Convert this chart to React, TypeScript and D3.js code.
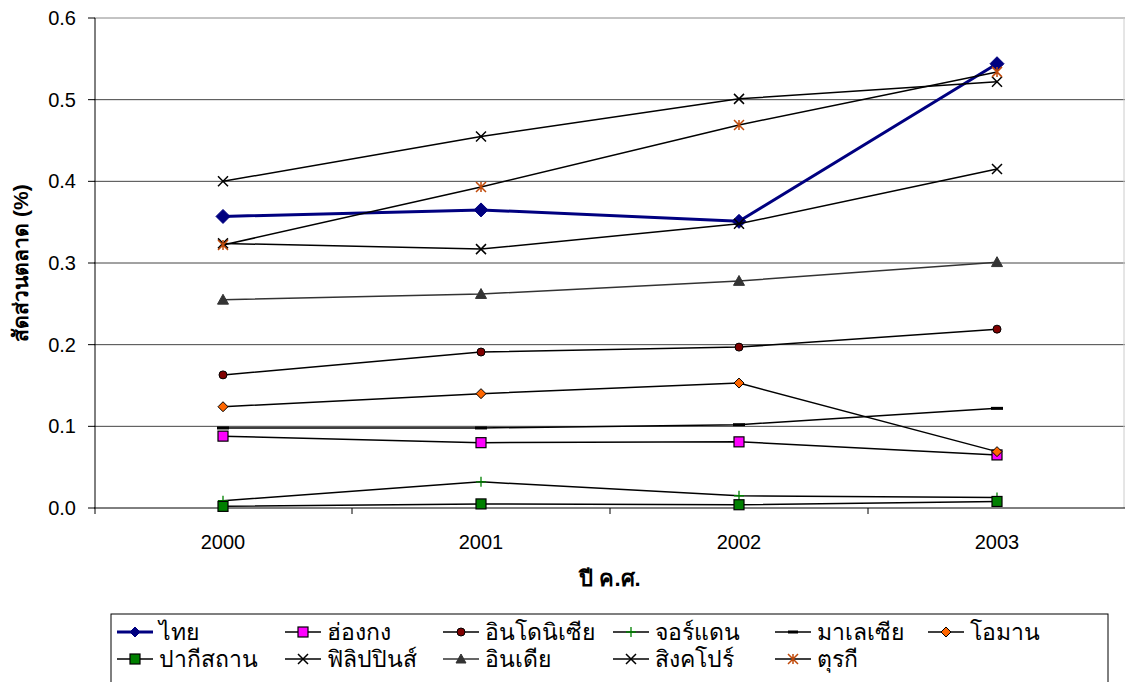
import React from "react";
import * as d3 from "d3";

const years = ["2000", "2001", "2002", "2003"];
const yTicks = [0, 0.1, 0.2, 0.3, 0.4, 0.5, 0.6];

const thai = [0.357, 0.365, 0.351, 0.544];
const hongKong = [0.088, 0.08, 0.081, 0.065];
const indonesia = [0.163, 0.191, 0.197, 0.219];
const jordan = [0.009, 0.032, 0.015, 0.013];
const malaysia = [0.098, 0.098, 0.102, 0.122];
const oman = [0.124, 0.14, 0.153, 0.069];
const pakistan = [0.002, 0.005, 0.004, 0.008];
const philippines = [0.324, 0.317, 0.348, 0.415];
const india = [0.255, 0.262, 0.278, 0.301];
const singapore = [0.4, 0.455, 0.501, 0.522];
const turkey = [0.322, 0.393, 0.469, 0.534];

type Marker = "diamond" | "square" | "circle" | "plus" | "dash" | "x" | "triangle" | "star";
interface Series { name: string; values: number[]; line: string; width: number; marker: Marker; fill: string; size: number; }

const series: Series[] = [
  { name: "ไทย", values: thai, line: "#000080", width: 3, marker: "diamond", fill: "#000080", size: 14 },
  { name: "ฮ่องกง", values: hongKong, line: "#000", width: 1.5, marker: "square", fill: "#FF00FF", size: 10 },
  { name: "อินโดนิเซีย", values: indonesia, line: "#000", width: 1.5, marker: "circle", fill: "#800000", size: 8 },
  { name: "จอร์แดน", values: jordan, line: "#000", width: 1.5, marker: "plus", fill: "#008000", size: 10 },
  { name: "มาเลเซีย", values: malaysia, line: "#000", width: 1.5, marker: "dash", fill: "#000", size: 12 },
  { name: "โอมาน", values: oman, line: "#000", width: 1.5, marker: "diamond", fill: "#FF6600", size: 10 },
  { name: "ปากีสถาน", values: pakistan, line: "#000", width: 1.5, marker: "square", fill: "#008000", size: 10 },
  { name: "ฟิลิปปินส์", values: philippines, line: "#000", width: 1.5, marker: "x", fill: "#000", size: 10 },
  { name: "อินเดีย", values: india, line: "#333", width: 1.5, marker: "triangle", fill: "#333", size: 11 },
  { name: "สิงคโปร์", values: singapore, line: "#000", width: 1.5, marker: "x", fill: "#000", size: 10 },
  { name: "ตุรกี", values: turkey, line: "#000", width: 1.5, marker: "star", fill: "#C04A0A", size: 10 },
];

const W = 1125, H = 682;
const plot = { left: 94, right: 1126, top: 18, bottom: 508 };
const legendBox = { x: 111, y: 614, w: 997, h: 80 };
const legendCols = [117, 285, 443, 613, 775, 928];
const legendRows = [632, 659];
const FONT = "Arial, 'Liberation Sans', sans-serif";

function MarkerShape({ m, x, y, legend }: { m: Series; x: number; y: number; legend?: boolean }) {
  const s = legend ? Math.min(m.size, 10) : m.size;
  const h = s / 2;
  switch (m.marker) {
    case "diamond":
      return <path d={`M${x},${y - h}L${x + h},${y}L${x},${y + h}L${x - h},${y}Z`} fill={m.fill} stroke={m.fill === "#000080" ? "#000080" : "#000"} strokeWidth={1} />;
    case "square":
      return <rect x={x - h} y={y - h} width={s} height={s} fill={m.fill} stroke="#000" strokeWidth={1.2} />;
    case "circle":
      return <circle cx={x} cy={y} r={h} fill={m.fill} stroke="#000" strokeWidth={1} />;
    case "plus":
      return <path d={`M${x - h},${y}H${x + h}M${x},${y - h}V${y + h}`} stroke={m.fill} strokeWidth={1.3} fill="none" />;
    case "dash":
      return <rect x={x - h} y={y - 1.5} width={s} height={3} fill={m.fill} />;
    case "x":
      return <path d={`M${x - h},${y - h}L${x + h},${y + h}M${x - h},${y + h}L${x + h},${y - h}`} stroke={m.fill} strokeWidth={1.5} fill="none" />;
    case "triangle":
      return <path d={`M${x},${y - h}L${x + h},${y + h * 0.8}L${x - h},${y + h * 0.8}Z`} fill={m.fill} stroke={m.fill} strokeWidth={1} />;
    case "star":
      return <path d={`M${x - h},${y - h}L${x + h},${y + h}M${x - h},${y + h}L${x + h},${y - h}M${x},${y - h}V${y + h}`} stroke={m.fill} strokeWidth={1.5} fill="none" />;
  }
  return null;
}

export default function App() {
  const x = d3.scaleBand<string>().domain(years).range([plot.left, plot.right]);
  const y = d3.scaleLinear().domain([0, 0.6]).range([plot.bottom, plot.top]);
  const cx = (yr: string) => (x(yr) as number) + x.bandwidth() / 2;
  const line = d3.line<number>().x((_, i) => cx(years[i])).y((v) => y(v));
  const between = years.slice(1).map((yr) => x(yr) as number);

  return (
    <svg width={W} height={H} style={{ position: "absolute", left: 0, top: 0, background: "#fff" }} fontFamily={FONT}>
      <rect x={0} y={0} width={W} height={H} fill="#fff" />
      {yTicks.filter((t) => t > 0).map((t) => (
        <line key={t} x1={plot.left} x2={plot.right} y1={y(t)} y2={y(t)} stroke={t === 0.6 ? "#888" : "#444"} strokeWidth={1} />
      ))}
      <line x1={1124} x2={1124} y1={plot.top} y2={plot.bottom} stroke="#ccc" />
      <line x1={plot.left + 1} x2={plot.left + 1} y1={plot.top} y2={plot.bottom} stroke="#000" strokeWidth={1} />
      <line x1={plot.left} x2={plot.right} y1={plot.bottom} y2={plot.bottom} stroke="#000" strokeWidth={1} />
      {yTicks.map((t) => (
        <g key={t}>
          <line x1={plot.left - 6} x2={plot.left + 1} y1={y(t)} y2={y(t)} stroke="#000" />
          <text x={plot.left - 18} y={y(t)} dy="0.35em" textAnchor="end" fontSize={20}>{t.toFixed(1)}</text>
        </g>
      ))}
      {[plot.left + 1, ...between].map((bx, i) => (
        <line key={i} x1={bx} x2={bx} y1={plot.bottom} y2={plot.bottom + 6} stroke="#000" />
      ))}
      {years.map((yr) => (
        <text key={yr} x={cx(yr)} y={549} textAnchor="middle" fontSize={20}>{yr}</text>
      ))}
      <text x={610} y={586} textAnchor="middle" fontSize={22} fontWeight="bold">ปี ค.ศ.</text>
      <text transform={`translate(28,${(plot.top + plot.bottom) / 2}) rotate(-90)`} textAnchor="middle" fontSize={21} fontWeight="bold">สัดส่วนตลาด (%)</text>
      {series.map((s) => (
        <g key={s.name}>
          <path d={line(s.values) || ""} fill="none" stroke={s.line} strokeWidth={s.width} />
          {s.values.map((v, i) => (
            <MarkerShape key={i} m={s} x={cx(years[i])} y={y(v)} />
          ))}
        </g>
      ))}
      <rect x={legendBox.x} y={legendBox.y} width={legendBox.w} height={legendBox.h} fill="#fff" stroke="#000" strokeWidth={1} />
      {series.map((s, i) => {
        const col = i % 6;
        const row = Math.floor(i / 6);
        const lx = legendCols[col];
        const ly = legendRows[row];
        return (
          <g key={s.name}>
            <line x1={lx} x2={lx + 36} y1={ly} y2={ly} stroke={s.line} strokeWidth={s.width} />
            <MarkerShape m={s} x={lx + 18} y={ly} legend />
            <text x={lx + 42} y={ly} dy="0.35em" fontSize={23}>{s.name}</text>
          </g>
        );
      })}
    </svg>
  );
}
